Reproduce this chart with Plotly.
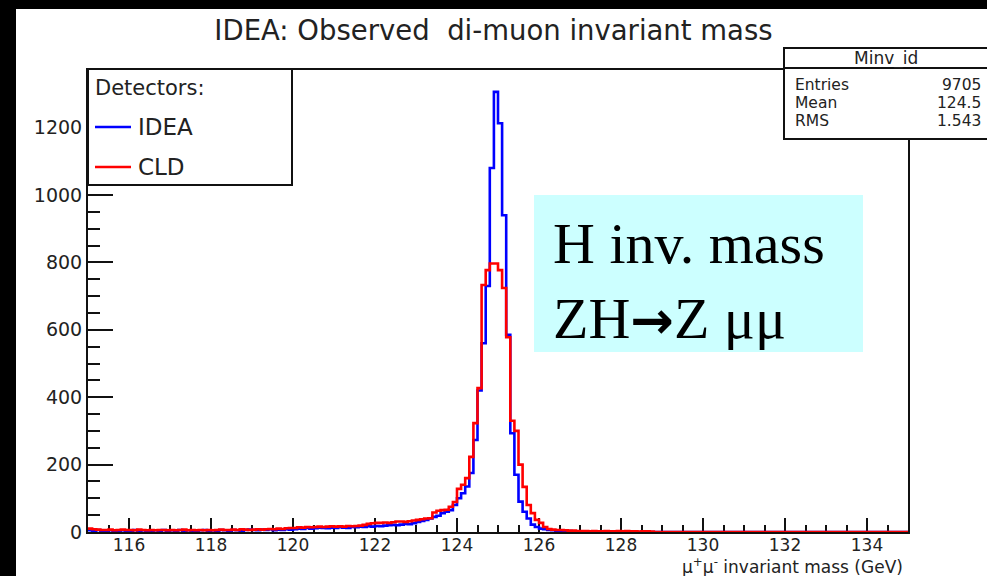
import plotly.graph_objects as go

# ---------------- data ----------------
mass_min, mass_max, bin_width = 115.0, 135.0, 0.1
mass_bin_edges = [round(mass_min + bin_width * i, 1) for i in range(201)]

# counts per 0.1 GeV bin, one row per GeV (115 ... 134)
idea_counts = (
    [5, 3, 6, 4, 2, 5, 4, 3, 5, 4] +            # 115
    [4, 6, 3, 5, 4, 2, 5, 4, 6, 3] +            # 116
    [5, 4, 6, 3, 5, 4, 2, 5, 6, 4] +            # 117
    [5, 4, 6, 5, 3, 6, 5, 4, 6, 7] +            # 118
    [6, 5, 7, 6, 8, 5, 7, 6, 8, 7] +            # 119
    [8, 10, 9, 12, 10, 11, 13, 12, 11, 13] +    # 120
    [12, 14, 13, 12, 15, 14, 16, 15, 17, 16] +  # 121
    [18, 17, 19, 20, 21, 20, 22, 24, 23, 26] +  # 122
    [30, 33, 36, 40, 45, 48, 56, 60, 65, 80] +  # 123
    [100, 115, 135, 175, 273, 420, 560, 730, 1080, 1306] +  # 124
    [1213, 940, 585, 293, 170, 90, 60, 40, 22, 15] +        # 125
    [10, 8, 6, 5, 4, 4, 3, 3, 2, 2] +           # 126
    [2, 1, 2, 1, 1, 1, 0, 1, 0, 0] +            # 127
    [0] * 70                                    # 128 - 134
)
cld_counts = (
    [10, 8, 7, 6, 6, 7, 5, 6, 7, 6] +           # 115
    [6, 5, 7, 6, 5, 6, 5, 6, 6, 5] +            # 116
    [6, 5, 6, 7, 5, 6, 5, 6, 5, 6] +            # 117
    [5, 6, 7, 6, 6, 7, 6, 8, 7, 6] +            # 118
    [7, 8, 7, 8, 9, 8, 10, 9, 11, 12] +         # 119
    [12, 14, 13, 15, 14, 15, 16, 15, 16, 17] +  # 120
    [16, 17, 16, 18, 17, 18, 19, 21, 24, 26] +  # 121
    [27, 27, 28, 27, 29, 31, 31, 30, 32, 34] +  # 122
    [36, 38, 40, 41, 58, 63, 65, 66, 75, 89] +  # 123
    [128, 140, 160, 223, 323, 427, 733, 777, 797, 797] +  # 124
    [777, 724, 578, 330, 300, 200, 134, 80, 56, 36] +     # 125
    [27, 15, 9, 7, 6, 6, 5, 4, 4, 3] +          # 126
    [3, 3, 2, 3, 2, 2, 3, 2, 2, 3] +            # 127
    [2, 3, 2, 2, 1, 2, 2, 1, 0, 0] +            # 128
    [0] * 60                                    # 129 - 134
)

series_names = ["IDEA", "CLD"]
x_tick_values = [116, 118, 120, 122, 124, 126, 128, 130, 132, 134]
y_tick_values = [0, 200, 400, 600, 800, 1000, 1200]
stats_labels = ["Entries", "Mean", "RMS"]
stats_values = ["9705", "124.5", "1.543"]

# ---------------- layout helpers (pixel -> paper) ----------------
W_FIG, H_FIG = 987, 576
L, R, T, B = 88, 908, 70, 532
PW, PH = R - L, B - T


def fx(px):
    return (px - L) / PW


def fy(py):
    return (B - py) / PH


SANS = "DejaVu Sans"
SERIF = "Liberation Serif"
TXT = "#222222"

fig = go.Figure()
colors = {"IDEA": "#0000ff", "CLD": "#ff0000"}
for name, counts in zip(series_names, [idea_counts, cld_counts]):
    fig.add_trace(go.Scatter(
        x=mass_bin_edges, y=counts + [counts[-1]],
        mode="lines", line=dict(color=colors[name], width=2.6, shape="hv"),
        name=name, showlegend=False,
    ))

shapes = []
annotations = []

# ROOT-like legend
shapes.append(dict(type="rect", xref="paper", yref="paper",
                   x0=fx(88), x1=fx(292), y0=fy(185), y1=fy(69),
                   line=dict(color="#111", width=2), fillcolor="white", layer="above"))
annotations.append(dict(text="Detectors:", xref="paper", yref="paper", x=fx(93), y=fy(88),
                        xanchor="left", yanchor="middle", showarrow=False,
                        font=dict(family=SANS, size=21, color=TXT)))
for i, name in enumerate(series_names):
    yy = 127 + 40 * i
    shapes.append(dict(type="line", xref="paper", yref="paper",
                       x0=fx(95), x1=fx(131), y0=fy(yy), y1=fy(yy),
                       line=dict(color=colors[name], width=2.5), layer="above"))
    annotations.append(dict(text=name, xref="paper", yref="paper", x=fx(136), y=fy(yy),
                            xanchor="left", yanchor="middle", showarrow=False,
                            font=dict(family=SANS, size=23, color=TXT)))

# statistics box
shapes.append(dict(type="rect", xref="paper", yref="paper",
                   x0=fx(784), x1=fx(995), y0=fy(139), y1=fy(48),
                   line=dict(color="#111", width=2), fillcolor="white", layer="above"))
shapes.append(dict(type="line", xref="paper", yref="paper",
                   x0=fx(784), x1=fx(995), y0=fy(68), y1=fy(68),
                   line=dict(color="#111", width=2), layer="above"))
annotations.append(dict(text="Minv_id", xref="paper", yref="paper", x=fx(886), y=fy(58),
                        xanchor="center", yanchor="middle", showarrow=False,
                        font=dict(family=SANS, size=17, color=TXT)))
for i, (lab, val) in enumerate(zip(stats_labels, stats_values)):
    yy = 85 + 18 * i
    annotations.append(dict(text=lab, xref="paper", yref="paper", x=fx(793), y=fy(yy),
                            xanchor="left", yanchor="middle", showarrow=False,
                            font=dict(family=SANS, size=15.5, color=TXT)))
    annotations.append(dict(text=val, xref="paper", yref="paper", x=fx(983), y=fy(yy),
                            xanchor="right", yanchor="middle", showarrow=False,
                            font=dict(family=SANS, size=15.5, color=TXT)))

# overlay text box
shapes.append(dict(type="rect", xref="paper", yref="paper",
                   x0=fx(534), x1=fx(863), y0=fy(352), y1=fy(195),
                   line=dict(width=0), fillcolor="#ccffff", layer="above"))
annotations.append(dict(text="H inv. mass", xref="paper", yref="paper", x=fx(551), y=fy(243),
                        xanchor="left", yanchor="middle", showarrow=False,
                        font=dict(family=SERIF, size=58, color="black")))
annotations.append(dict(
    text="ZH<span style='font-family:DejaVu Sans;font-weight:bold;font-size:52px'>→</span>Z μμ",
    xref="paper", yref="paper", x=fx(551), y=fy(318),
    xanchor="left", yanchor="middle", showarrow=False,
    font=dict(family=SERIF, size=58, color="black")))

# x-axis title (ROOT style, right aligned)
annotations.append(dict(text="μ<sup>+</sup>μ<sup>-</sup> invariant mass (GeV)",
                        xref="paper", yref="paper", x=fx(905), y=fy(566),
                        xanchor="right", yanchor="middle", showarrow=False,
                        font=dict(family=SANS, size=17, color=TXT)))

# black frame of the screenshot
shapes.append(dict(type="rect", xref="paper", yref="paper",
                   x0=fx(-5), x1=fx(W_FIG + 5), y0=fy(9), y1=fy(-5),
                   line=dict(width=0), fillcolor="black", layer="above"))
shapes.append(dict(type="rect", xref="paper", yref="paper",
                   x0=fx(-5), x1=fx(16), y0=fy(H_FIG + 5), y1=fy(-5),
                   line=dict(width=0), fillcolor="black", layer="above"))

fig.update_layout(
    width=W_FIG, height=H_FIG, autosize=False,
    margin=dict(l=L, r=W_FIG - R, t=T, b=H_FIG - B, pad=0),
    paper_bgcolor="white", plot_bgcolor="white",
    title=dict(text="IDEA: Observed  di-muon invariant mass", x=0.5, xanchor="center",
               y=1 - 30 / H_FIG, yanchor="middle",
               font=dict(family=SANS, size=27.5, color=TXT)),
    shapes=shapes, annotations=annotations,
    showlegend=False,
)
fig.update_xaxes(
    range=[mass_min, mass_max], showgrid=False, zeroline=False,
    showline=True, linecolor="#111", linewidth=2, mirror=True, layer="below traces",
    ticks="inside", ticklen=14, tickwidth=2, tickcolor="#111",
    tickvals=x_tick_values, ticktext=[str(v) for v in x_tick_values],
    minor=dict(ticks="inside", ticklen=7, tickwidth=2, tickcolor="#111", dtick=0.5, showgrid=False),
    tickfont=dict(family=SANS, size=17, color=TXT), ticklabelstandoff=-3,
)
fig.update_yaxes(
    range=[0, 1371], showgrid=False, zeroline=False,
    showline=True, linecolor="#111", linewidth=2, mirror=True, layer="below traces",
    ticks="inside", ticklen=25, tickwidth=2, tickcolor="#111",
    tickvals=y_tick_values, ticktext=[str(v) for v in y_tick_values],
    minor=dict(ticks="inside", ticklen=12, tickwidth=2, tickcolor="#111", dtick=50, showgrid=False),
    tickfont=dict(family=SANS, size=19, color=TXT),
)

fig.write_html(
    "out.html",
    config={"displayModeBar": False},
    post_script="document.body.style.margin='0';document.body.style.overflow='hidden';",
)
